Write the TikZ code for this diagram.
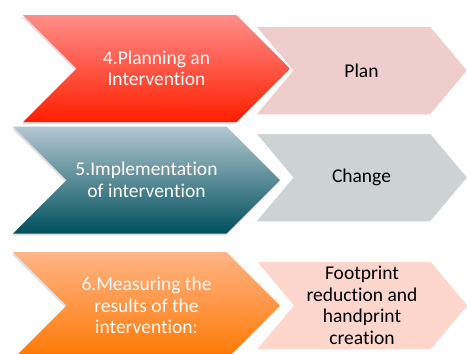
\documentclass[tikz,border=0pt]{standalone}
\usepackage{fontspec}
\setmainfont{Carlito}[Ligatures=NoCommon]
\usetikzlibrary{shapes.symbols,shadows,positioning}

\definecolor{redtop}{HTML}{FF8E8A}
\definecolor{redbot}{HTML}{FF1E00}
\definecolor{tealtop}{HTML}{B3C7D1}
\definecolor{tealbot}{HTML}{00505E}
\definecolor{orangetop}{HTML}{FFB488}
\definecolor{orangebot}{HTML}{FF7800}
\definecolor{plancol}{HTML}{F0CDCD}
\definecolor{changecol}{HTML}{CDD3D3}
\definecolor{printcol}{HTML}{FDD6CC}

\begin{document}
\begin{tikzpicture}[x=1pt,y=-1pt,
  stage/.style={signal, signal from=west, signal to=east,
    signal pointer angle=90, minimum width=267pt, minimum height=107pt,
    inner sep=0pt, align=center, text=white!95!pink,
    font=\fontsize{19.5}{21.5}\selectfont,
    drop shadow={opacity=0.25, shadow xshift=-1pt, shadow yshift=-2pt}},
  result/.style={signal, signal from=west, signal to=east,
    signal pointer angle=100, minimum width=213pt, minimum height=89pt,
    inner sep=0pt, align=center, text=black, draw=white, line width=1.5pt,
    font=\fontsize{19.5}{21.5}\selectfont}]

  \useasboundingbox (0,0) rectangle (467,354);
  \clip (0,0) rectangle (467,354);

  % steps
  \node[stage, top color=redtop, bottom color=redbot]       (P) at (156.5,68.5) {4.Planning an\\Intervention};
  \node[stage, top color=tealtop, bottom color=tealbot]     (I) at (146.5,180)  {5.Implementation\\of intervention};
  \node[stage, top color=orangetop, bottom color=orangebot] (M) at (146.5,305.5) {6.Measuring the\\results of the\\intervention:};

  % outcomes
  \node[result, fill=plancol]   (PO) at (361.5,70.5) {Plan};
  \node[result, fill=changecol] (IO) at (361.5,177.5) {Change};
  \node[result, fill=printcol]  (MO) at (362,305.5)  {Footprint\\reduction and\\handprint\\creation};

\end{tikzpicture}
\end{document}
